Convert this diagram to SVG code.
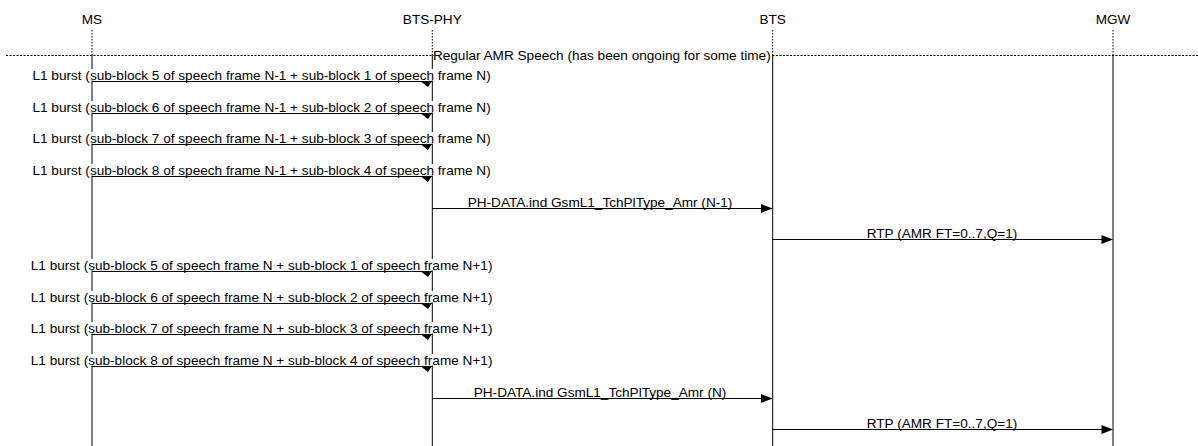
<svg xmlns="http://www.w3.org/2000/svg" width="1198" height="446" viewBox="0 0 1198 446">
<style>
text{font-family:"Liberation Sans",Arial,sans-serif;font-size:13.6px;fill:#000;text-anchor:middle}
.life{stroke:#000;stroke-width:1;fill:none}
.dot{stroke:#000;stroke-width:1;stroke-dasharray:1.5,1.5;fill:none}
.div{stroke:#000;stroke-width:1;stroke-dasharray:2,1.5;fill:none}
.arc{stroke:#000;stroke-width:1;fill:none}
.bg{fill:#fff}
.head{fill:#000}
</style>
<rect width="1198" height="446" fill="#fff"/>
<g id="entities">
<g id="MS"><text x="92" y="24">MS</text><line class="dot" x1="92" y1="30" x2="92" y2="55"/><line class="life" x1="92" y1="55" x2="92" y2="446"/></g>
<g id="BTS-PHY"><text x="432.3" y="24">BTS-PHY</text><line class="dot" x1="432.3" y1="30" x2="432.3" y2="55"/><line class="life" x1="432.3" y1="55" x2="432.3" y2="446"/></g>
<g id="BTS"><text x="772.7" y="24">BTS</text><line class="dot" x1="772.7" y1="30" x2="772.7" y2="55"/><line class="life" x1="772.7" y1="55" x2="772.7" y2="446"/></g>
<g id="MGW"><text x="1113" y="24">MGW</text><line class="dot" x1="1113" y1="30" x2="1113" y2="55"/><line class="life" x1="1113" y1="55" x2="1113" y2="446"/></g>
</g>
<g id="divider">
<line class="div" x1="6" y1="55.5" x2="1198" y2="55.5"/>
<rect class="bg" x="433.5" y="47" width="338" height="15"/>
<text x="601.8" y="59.5">Regular AMR Speech (has been ongoing for some time)</text>
</g>
<g id="connectors">
<g id="m1"><line class="arc" x1="92" y1="81.5" x2="432" y2="81.5"/><polygon class="head" points="421.5,82 432.3,80.5 428,87"/><rect class="bg" x="31" y="69" width="461" height="11.5"/><text x="261.6" y="80">L1 burst (sub-block 5 of speech frame N-1 + sub-block 1 of speech frame N)</text></g>
<g id="m2"><line class="arc" x1="92" y1="113.5" x2="432" y2="113.5"/><polygon class="head" points="421.5,114 432.3,112.5 428,119"/><rect class="bg" x="31" y="101" width="461" height="11.5"/><text x="261.6" y="112">L1 burst (sub-block 6 of speech frame N-1 + sub-block 2 of speech frame N)</text></g>
<g id="m3"><line class="arc" x1="92" y1="144.5" x2="432" y2="144.5"/><polygon class="head" points="421.5,145 432.3,143.5 428,150"/><rect class="bg" x="31" y="132" width="461" height="11.5"/><text x="261.6" y="143">L1 burst (sub-block 7 of speech frame N-1 + sub-block 3 of speech frame N)</text></g>
<g id="m4"><line class="arc" x1="92" y1="176.5" x2="432" y2="176.5"/><polygon class="head" points="421.5,177 432.3,175.5 428,182"/><rect class="bg" x="31" y="164" width="461" height="11.5"/><text x="261.6" y="175">L1 burst (sub-block 8 of speech frame N-1 + sub-block 4 of speech frame N)</text></g>
<g id="m5"><line class="arc" x1="432.3" y1="208.5" x2="772" y2="208.5"/><polygon class="head" points="761,204 772.7,208.5 761,213"/><text x="600" y="206.5">PH-DATA.ind GsmL1_TchPlType_Amr (N-1)</text></g>
<g id="m6"><line class="arc" x1="772.7" y1="239.5" x2="1112" y2="239.5"/><polygon class="head" points="1101.5,235 1113,239.5 1101.5,244"/><text x="942" y="237.5">RTP (AMR FT=0..7,Q=1)</text></g>
<g id="m7"><line class="arc" x1="92" y1="271.5" x2="432" y2="271.5"/><polygon class="head" points="421.5,272 432.3,270.5 428,277"/><rect class="bg" x="29" y="259" width="465" height="11.5"/><text x="261.6" y="270">L1 burst (sub-block 5 of speech frame N + sub-block 1 of speech frame N+1)</text></g>
<g id="m8"><line class="arc" x1="92" y1="303.5" x2="432" y2="303.5"/><polygon class="head" points="421.5,304 432.3,302.5 428,309"/><rect class="bg" x="29" y="291" width="465" height="11.5"/><text x="261.6" y="302">L1 burst (sub-block 6 of speech frame N + sub-block 2 of speech frame N+1)</text></g>
<g id="m9"><line class="arc" x1="92" y1="334.5" x2="432" y2="334.5"/><polygon class="head" points="421.5,335 432.3,333.5 428,340"/><rect class="bg" x="29" y="322" width="465" height="11.5"/><text x="261.6" y="333">L1 burst (sub-block 7 of speech frame N + sub-block 3 of speech frame N+1)</text></g>
<g id="m10"><line class="arc" x1="92" y1="366.5" x2="432" y2="366.5"/><polygon class="head" points="421.5,367 432.3,365.5 428,372"/><rect class="bg" x="29" y="354" width="465" height="11.5"/><text x="261.6" y="365">L1 burst (sub-block 8 of speech frame N + sub-block 4 of speech frame N+1)</text></g>
<g id="m11"><line class="arc" x1="432.3" y1="398.5" x2="772" y2="398.5"/><polygon class="head" points="761,394 772.7,398.5 761,403"/><text x="600" y="396.5">PH-DATA.ind GsmL1_TchPlType_Amr (N)</text></g>
<g id="m12"><line class="arc" x1="772.7" y1="429.5" x2="1112" y2="429.5"/><polygon class="head" points="1101.5,425 1113,429.5 1101.5,434"/><text x="942" y="427.5">RTP (AMR FT=0..7,Q=1)</text></g>
</g>
</svg>
